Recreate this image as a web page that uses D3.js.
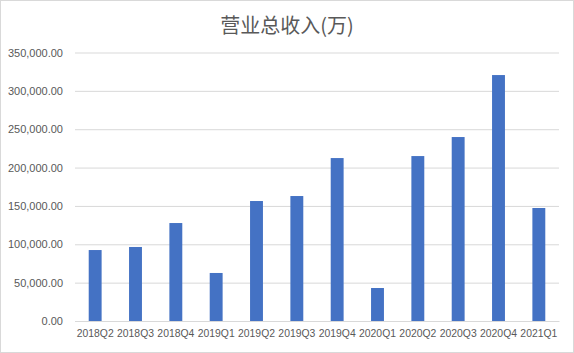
<!DOCTYPE html>
<html>
<head>
<meta charset="utf-8">
<script src="https://cdn.jsdelivr.net/npm/d3@7"></script>
<style>
  body { margin: 0; background: #fff; }
  #chart text { font-family: "Liberation Sans", Arial, sans-serif; fill: #595959; }
</style>
</head>
<body>
<div id="chart"></div>
<script>
// data
const quarters = ['2018Q2', '2018Q3', '2018Q4', '2019Q1', '2019Q2', '2019Q3',
                  '2019Q4', '2020Q1', '2020Q2', '2020Q3', '2020Q4', '2021Q1'];
const revenue = [92500, 96500, 127700, 62600, 156400, 162900,
                 212400, 43000, 215000, 239800, 320600, 147300];
const yTicks = [0, 50000, 100000, 150000, 200000, 250000, 300000, 350000];

const svgWidth = 574, svgHeight = 353;
const margin = { top: 52.5, right: 15, bottom: 32, left: 75 };
const width = svgWidth - margin.left - margin.right;
const height = svgHeight - margin.top - margin.bottom;

const svg = d3.select('#chart').append('svg')
    .attr('width', svgWidth)
    .attr('height', svgHeight);

// outer border
svg.append('rect')
    .attr('x', 0.5).attr('y', 0.5)
    .attr('width', svgWidth - 1).attr('height', svgHeight - 1)
    .attr('fill', '#fff')
    .attr('stroke', '#d9d9d9');

const g = svg.append('g')
    .attr('transform', `translate(${margin.left}, ${margin.top})`);

const x = d3.scaleBand()
    .domain(quarters)
    .range([0, width])
    .paddingInner(0.68)
    .paddingOuter(0.34);

const y = d3.scaleLinear()
    .domain([0, 350000])
    .range([height, 0]);

const fmt = d3.format(',.2f');

// gridlines + y labels
const yAxis = g.append('g')
    .call(d3.axisLeft(y).tickValues(yTicks).tickSize(-width).tickPadding(12).tickFormat(fmt));
yAxis.select('.domain').remove();
yAxis.selectAll('line').attr('stroke', '#d9d9d9');
yAxis.selectAll('text').style('font-size', '11px');

// bars
g.selectAll('.bar')
    .data(revenue)
    .enter().append('rect')
    .attr('class', 'bar')
    .attr('x', (d, i) => x(quarters[i]))
    .attr('y', d => y(d))
    .attr('width', x.bandwidth())
    .attr('height', d => height - y(d))
    .attr('fill', '#4472c4');

// x axis
const xAxis = g.append('g')
    .attr('transform', `translate(0, ${height})`)
    .call(d3.axisBottom(x).tickSize(0).tickPadding(9));
xAxis.select('.domain').attr('stroke', '#d9d9d9');
xAxis.selectAll('text').style('font-size', '10.4px');

// title
svg.append('text')
    .attr('x', 287)
    .attr('y', 33)
    .attr('text-anchor', 'middle')
    .style('font-family', '"Noto Sans CJK SC", sans-serif')
    .style('font-size', '20px')
    .text('营业总收入(万)');
</script>
</body>
</html>
